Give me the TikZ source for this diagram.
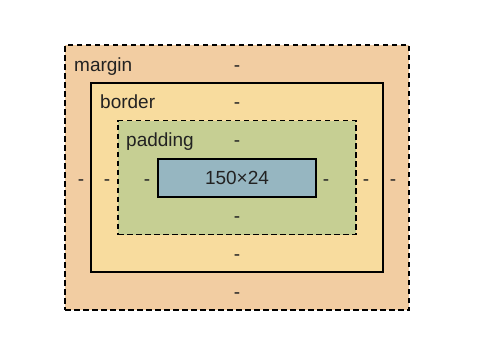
\documentclass[tikz,border=0pt]{standalone}
\usepackage{fontspec}
\setmainfont{Liberation Sans}
\definecolor{marginc}{HTML}{F2CDA2}
\definecolor{borderc}{HTML}{F8DC9E}
\definecolor{paddingc}{HTML}{C6CF93}
\definecolor{contentc}{HTML}{96B6C1}
\definecolor{txt}{HTML}{222222}
\usetikzlibrary{positioning}
\begin{document}
\begin{tikzpicture}[x=1pt,y=-1pt,font=\fontsize{19}{22}\selectfont,box/.style={draw=black,inner sep=0,outer sep=0},dbox/.style={box,line width=1.8pt,dash pattern=on 5.5pt off 3.5pt},sbox/.style={box,line width=2.2pt},lbl/.style={text=txt,anchor=base west,inner sep=0},dsh/.style={text=txt,anchor=base,inner sep=0}]
\useasboundingbox (0,0) rectangle (486,340);
% boxes, outside in
\node[dbox,fill=marginc,minimum width=344pt,minimum height=265pt] (margin) at (237,177.5) {};
\node[sbox,fill=borderc,minimum width=292pt,minimum height=189pt] (border) at (237,177.5) {};
\node[dbox,fill=paddingc,minimum width=238pt,minimum height=114pt] (padding) at (237,177.5) {};
\node[sbox,fill=contentc,minimum width=158pt,minimum height=38pt,text=txt] (content) at (237,178) {150×24};
% names
\node[lbl] (marginlbl) at (74,71) {margin};
\node[lbl] (borderlbl) at (100,108.5) {border};
\node[lbl] (paddinglbl) at (126,146.5) {padding};
% values
\node[dsh] (mt) at (237,71) {-};
\node[dsh] (bt) at (237,108.5) {-};
\node[dsh] (pt) at (237,146.5) {-};
\node[dsh] (pb) at (237,222.5) {-};
\node[dsh] (bb) at (237,260.5) {-};
\node[dsh] (mb) at (237,298.5) {-};
\node[dsh] (ml) at (81,185.5) {-};
\node[dsh] (bl) at (107,185.5) {-};
\node[dsh] (pl) at (147,185.5) {-};
\node[dsh] (pr) at (326,185.5) {-};
\node[dsh] (br) at (366,185.5) {-};
\node[dsh] (mr) at (393,185.5) {-};
\end{tikzpicture}
\end{document}
